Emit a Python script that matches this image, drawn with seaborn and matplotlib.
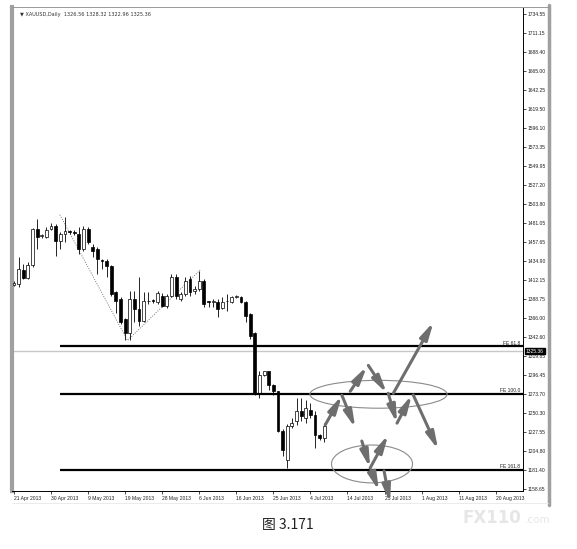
import matplotlib
matplotlib.use("Agg")
import matplotlib.pyplot as plt
import matplotlib.transforms as mtransforms
from matplotlib.patches import Ellipse
from matplotlib.lines import Line2D
import seaborn as sns
import numpy as np
import pandas as pd

# daily XAUUSD candles, bar index 0 = 21 Apr 2013
opens = [1406.0, 1407.3, 1423.4, 1414.6, 1430.3, 1473.7, 1465.0, 1464.1, 1473.7, 1477.3,
         1459.2, 1467.7, 1470.5, 1469.5, 1467.7, 1449.6, 1473.7, 1452.0, 1449.6, 1435.5,
         1435.1, 1429.1, 1397.7, 1389.2, 1365.0, 1347.0, 1389.2, 1377.1, 1362.7, 1386.0,
         1387.0, 1385.6, 1392.8, 1380.8, 1392.8, 1415.8, 1389.2, 1395.2, 1413.4, 1398.9,
         1401.3, 1410.9, 1385.6, 1385.0, 1385.6, 1378.3, 1386.0, 1385.6, 1391.6, 1391.6,
         1385.6, 1371.1, 1347.0, 1274.5, 1296.3, 1301.1, 1284.2, 1276.9, 1228.6, 1193.6,
         1234.6, 1240.7, 1252.8, 1244.3, 1254.4, 1247.9, 1223.8, 1220.2]
highs = [1411.0, 1439.9, 1431.5, 1434.0, 1474.5, 1485.8, 1468.0, 1476.1, 1481.0, 1479.8,
         1470.1, 1488.2, 1473.0, 1472.0, 1476.1, 1477.3, 1476.0, 1455.6, 1452.0, 1437.5,
         1437.5, 1430.5, 1399.0, 1391.0, 1366.0, 1398.9, 1398.9, 1415.8, 1397.7, 1397.7,
         1389.0, 1398.0, 1396.5, 1395.0, 1419.4, 1419.4, 1397.7, 1415.8, 1417.0, 1405.0,
         1423.0, 1413.4, 1387.0, 1389.0, 1389.2, 1391.6, 1395.2, 1393.0, 1394.0, 1393.0,
         1386.8, 1372.0, 1349.4, 1301.1, 1302.0, 1302.0, 1285.4, 1277.5, 1231.0, 1237.0,
         1244.3, 1268.5, 1268.5, 1266.0, 1262.4, 1252.8, 1225.0, 1238.4]
lows = [1404.0, 1403.7, 1413.4, 1413.4, 1427.8, 1449.6, 1463.0, 1463.0, 1472.0, 1441.1,
        1449.6, 1458.0, 1468.0, 1467.0, 1443.5, 1447.1, 1455.6, 1440.0, 1419.4, 1425.4,
        1415.8, 1393.0, 1372.0, 1358.0, 1338.5, 1338.5, 1361.4, 1356.6, 1361.4, 1383.0,
        1384.0, 1383.0, 1379.5, 1378.0, 1391.6, 1389.2, 1386.8, 1392.8, 1392.8, 1395.2,
        1398.9, 1379.5, 1379.5, 1379.5, 1367.5, 1377.0, 1374.7, 1384.0, 1390.0, 1384.0,
        1361.4, 1340.9, 1272.1, 1268.5, 1295.0, 1278.1, 1272.1, 1227.5, 1198.4, 1184.0,
        1232.0, 1235.8, 1240.7, 1238.4, 1244.0, 1208.0, 1218.0, 1216.0]
closes = [1408.0, 1425.4, 1414.6, 1430.3, 1473.7, 1464.1, 1466.0, 1472.5, 1477.3, 1459.2,
          1467.7, 1471.3, 1470.0, 1469.0, 1449.6, 1473.7, 1458.0, 1447.2, 1437.5, 1435.0,
          1429.1, 1395.2, 1386.8, 1361.4, 1347.0, 1389.2, 1377.1, 1362.7, 1386.8, 1387.0,
          1386.5, 1396.5, 1380.8, 1392.8, 1415.8, 1392.8, 1395.2, 1410.9, 1397.7, 1401.3,
          1410.9, 1383.2, 1385.0, 1385.6, 1377.1, 1385.6, 1387.0, 1391.6, 1392.0, 1385.6,
          1368.7, 1344.5, 1274.5, 1296.3, 1301.1, 1284.2, 1276.9, 1228.6, 1205.7, 1234.6,
          1238.4, 1252.8, 1246.7, 1256.4, 1248.3, 1223.8, 1220.2, 1234.6]

date_labels = ["21 Apr 2013", "30 Apr 2013", "9 May 2013", "19 May 2013", "28 May 2013",
               "6 Jun 2013", "16 Jun 2013", "25 Jun 2013", "4 Jul 2013", "14 Jul 2013",
               "23 Jul 2013", "1 Aug 2013", "11 Aug 2013", "20 Aug 2013"]
price_labels = ["1734.55", "1711.15", "1688.40", "1665.00", "1642.25", "1619.50", "1596.10",
                "1573.35", "1549.95", "1527.20", "1503.80", "1481.05", "1457.65", "1434.90",
                "1412.15", "1388.75", "1366.00", "1342.60", "1319.85", "1296.45", "1273.70",
                "1250.30", "1227.55", "1204.80", "1181.40", "1158.65"]

# fibo expansion swing points (bar, price) and levels
swing_x = [9.9, 24.5, 40.2]
swing_y = [1491.0, 1338.5, 1424.0]
fe_names = ["FE 61.8", "FE 100.0", "FE 161.8"]
fe_levels = [1331.5, 1273.7, 1181.4]
last_price = 1325.36

# drawn scenario arrows: (x0, y0, x1, y1) in bar / price
arrows = [
    (67.2, 1236.2, 70.8, 1271.7),
    (70.8, 1272.1, 73.7, 1232.3),
    (72.6, 1276.9, 76.2, 1307.1),
    (76.5, 1308.3, 80.5, 1274.5),
    (80.8, 1274.5, 82.7, 1238.3),
    (82.7, 1238.3, 85.9, 1272.5),
    (86.2, 1272.5, 91.6, 1206.1),
    (81.9, 1274.5, 90.6, 1361.1),
    (75.1, 1216.6, 76.9, 1184.0),
    (76.9, 1184.0, 80.8, 1224.2),
    (77.1, 1181.6, 78.8, 1156.2),
    (79.9, 1180.4, 81.2, 1141.7),
]
# ellipses: (cx, cy, w, h)
ellipses = [(78.7, 1273.3, 29.6, 33.8), (77.3, 1188.8, 17.5, 45.9)]

df = pd.DataFrame({"open": opens, "high": highs, "low": lows, "close": closes})
df["x"] = np.arange(len(df))
df["up"] = df["close"] >= df["open"]

sns.set_theme(style="white")
plt.rcParams["font.family"] = ["Liberation Sans", "DejaVu Sans"]
small = 3.6

W, H = 577, 549
fig = plt.figure(figsize=(W / 100, H / 100), dpi=100)
ax = fig.add_axes([12 / W, 1 - 491 / H, (523 - 12) / W, (491 - 7) / H])

# wicks and bodies
ax.vlines(df["x"], df["low"], df["high"], color="black", lw=0.6, zorder=3)
body_lo = df[["open", "close"]].min(axis=1)
body_h = (df["close"] - df["open"]).abs().clip(lower=0.9)
ax.bar(df["x"], body_h, bottom=body_lo, width=0.62,
       color=np.where(df["up"], "white", "black"), edgecolor="black", linewidth=0.5, zorder=4)

# dotted swing lines
sns.lineplot(x=swing_x, y=swing_y, ax=ax, color="#777777", lw=0.7, linestyle=(0, (1, 1.5)),
             sort=False, zorder=2)

# current price line
ax.axhline(last_price, color="#c8c8c8", lw=1.0, zorder=1)

xmin, xmax = -0.43, 109.9
for name, lvl in zip(fe_names, fe_levels):
    ax.hlines(lvl, swing_x[0], xmax, color="black", lw=1.6, zorder=5)
    ax.text(109.3, lvl + 0.8, name, fontsize=small, ha="right", va="bottom", color="#222222")

for cx, cy, w, h in ellipses:
    ax.add_patch(Ellipse((cx, cy), w, h, fill=False, edgecolor="#8a8a8a", lw=0.8, zorder=6))

for x0, y0, x1, y1 in arrows:
    ax.annotate("", xy=(x1, y1), xytext=(x0, y0), annotation_clip=False,
                arrowprops=dict(arrowstyle="-|>,head_length=0.85,head_width=0.2",
                                color="#6e6e6e", lw=2.2, shrinkA=0, shrinkB=0),
                zorder=7)

ax.set_xlim(xmin, xmax)
ax.set_ylim(1156.0, 1742.9)

ax.set_xticks(np.arange(len(date_labels)) * 8)
ax.set_xticklabels(date_labels, fontsize=small, ha="left", color="#222222")
ax.yaxis.tick_right()
ax.set_yticks([float(v) for v in price_labels])
ax.set_yticklabels(price_labels, fontsize=small, color="#222222")
ax.tick_params(axis="both", length=2, width=0.5, pad=1.5, color="black")
ax.tick_params(axis="x", bottom=True)
ax.tick_params(axis="y", right=True, left=False)

for s in ["right", "bottom"]:
    ax.spines[s].set_color("black")
    ax.spines[s].set_linewidth(0.7)
ax.spines["top"].set_color("#999999")
ax.spines["top"].set_linewidth(0.7)
ax.spines["left"].set_color("#a0a0a0")
ax.spines["left"].set_linewidth(3)

# last price tag on the price scale
trans = mtransforms.blended_transform_factory(ax.transAxes, ax.transData)
ax.text(1.006, last_price, "1325.36", transform=trans, fontsize=small, color="white",
        va="center", ha="left", zorder=10,
        bbox=dict(boxstyle="square,pad=0.12", fc="black", ec="black"))

ax.text(0.015, 0.99, "\u25bc XAUUSD,Daily  1326.56 1328.32 1322.96 1325.36", transform=ax.transAxes,
        fontsize=small, va="top", ha="left", color="#333333", family=["DejaVu Sans"])

# window frame on the right of the price scale
fig.add_artist(Line2D([549 / W, 549 / W], [1 - 5 / H, 1 - 505 / H], color="#a0a0a0", lw=2.5))
fig.add_artist(Line2D([523 / W, 549 / W], [1 - 7 / H, 1 - 7 / H], color="#999999", lw=0.7))
fig.add_artist(Line2D([12 / W, 548 / W], [1 - 503 / H, 1 - 503 / H], color="#e8e8e8", lw=0.6))

fig.text(288 / W, 1 - 525 / H, "图 3.171", fontsize=10, ha="center", va="center",
         family=["Noto Sans CJK SC", "DejaVu Sans"], color="#222222")
fig.text(462 / W, 1 - 518 / H, "FX110", fontsize=12, fontweight="bold", color="#e6e6e6",
         ha="left", va="center", family=["DejaVu Sans"])
fig.text(525 / W, 1 - 520 / H, ".com", fontsize=7.5, color="#e6e6e6", ha="left", va="center",
         family=["DejaVu Sans"])

fig.savefig("out.png", dpi=100)
